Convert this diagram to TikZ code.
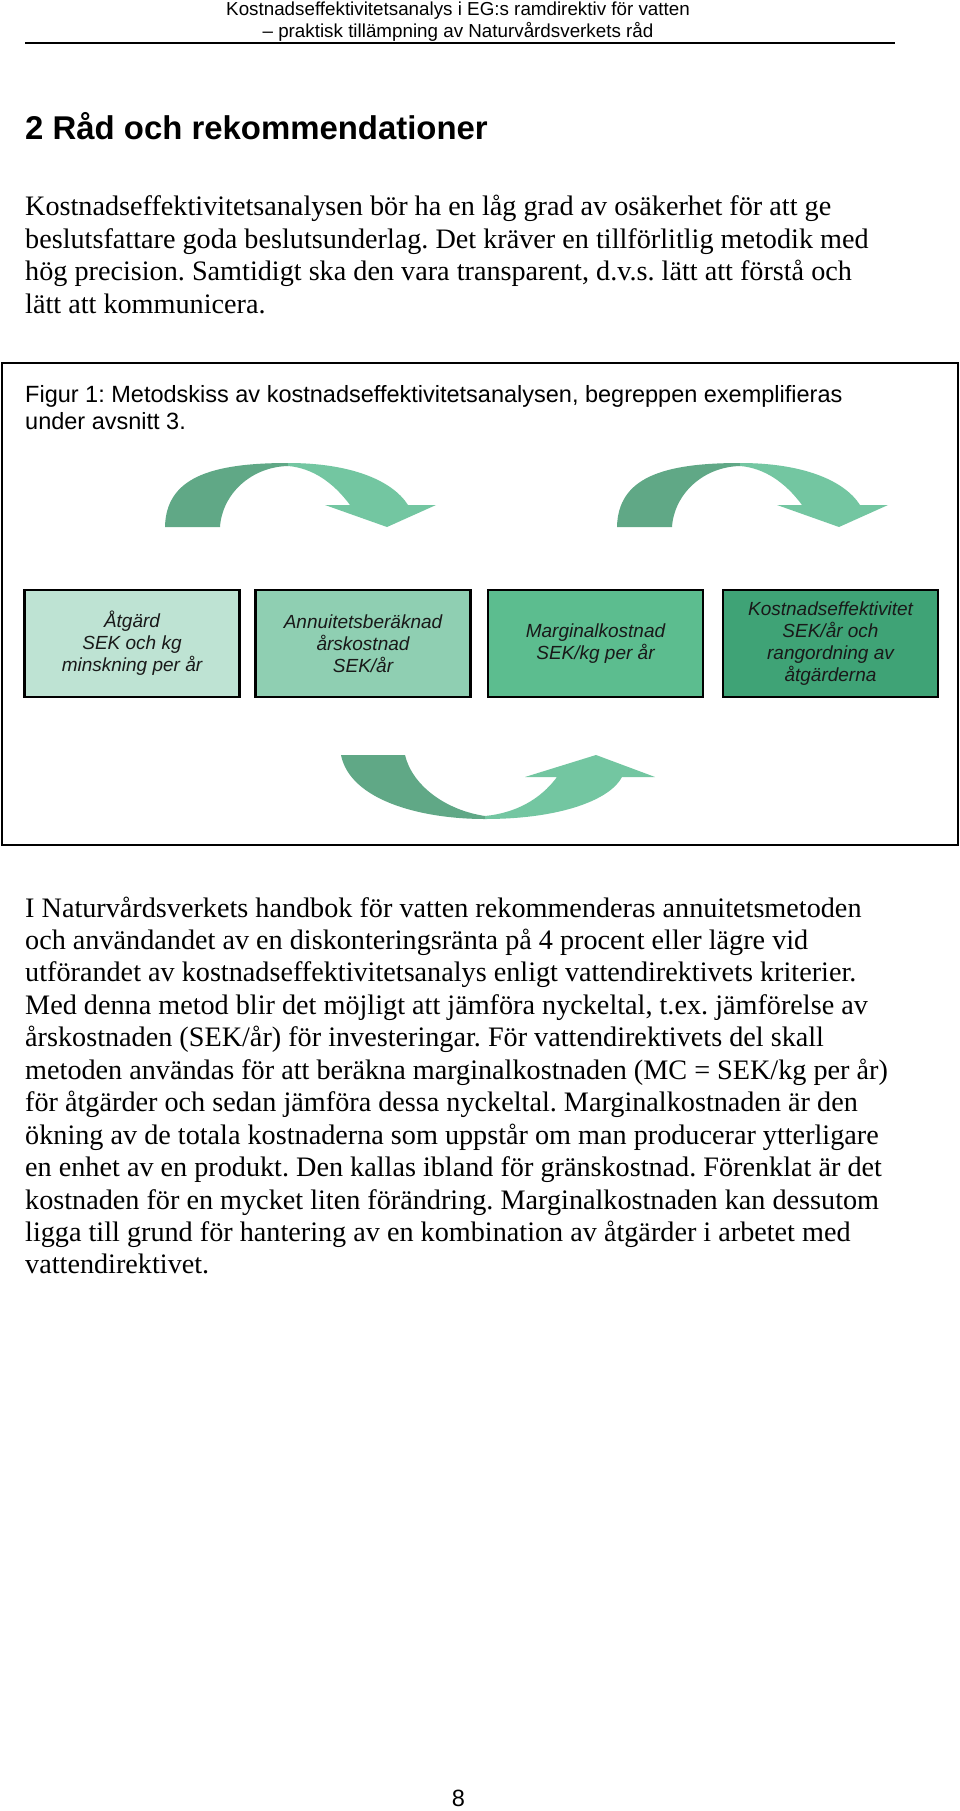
\documentclass[tikz,border=0pt]{standalone}
\usepackage{fontspec}
\setmainfont{Liberation Serif}
\setsansfont{Liberation Sans}
\usepackage{xcolor}
\definecolor{arrowdark}{HTML}{60A886}
\definecolor{arrowlight}{HTML}{73C6A1}
\definecolor{stageA}{HTML}{BEE3D3}
\definecolor{stageB}{HTML}{8FCFB2}
\definecolor{stageC}{HTML}{5CBD8F}
\definecolor{stageD}{HTML}{3FA376}
\frenchspacing

\begin{document}
\begin{tikzpicture}[x=1pt,y=-1pt]
        \tikzset{head text/.style = {font=\sffamily\fontsize{18.8}{21.6}\selectfont, anchor=base, inner sep=0pt},
                 body text/.style = {font=\fontsize{28.2}{32.45}\selectfont, anchor=base west, inner sep=0pt},
                 caption text/.style = {font=\sffamily\fontsize{23.5}{27}\selectfont, anchor=base west, inner sep=0pt},
                 stage box/.style = {draw=black, line width=2.5pt, minimum width=215pt, minimum height=107pt,
                                     inner sep=2pt, align=center, text=black!90,
                                     font=\sffamily\itshape\fontsize{19}{22}\selectfont}}
        \useasboundingbox (0,0) rectangle (960,1811);
        \fill[white] (0,0) rectangle (960,1811);
        \node[head text] (head1) at (458,16) {Kostnadseffektivitetsanalys i EG:s ramdirektiv för vatten};
        \node[head text] (head2) at (458,37.5) {– praktisk tillämpning av Naturvårdsverkets råd};
        \coordinate (ruleL) at (25,43);
        \coordinate (ruleR) at (895,43);
        \draw[line width=1.5pt] (ruleL) -- (ruleR);
        \node[anchor=base west, inner sep=0pt, font=\sffamily\bfseries\fontsize{32.9}{38}\selectfont] (title) at (25,140) {2 Råd och rekommendationer};
        \foreach \txt [count=\i] in {
            {Kostnadseffektivitetsanalysen bör ha en låg grad av osäkerhet för att ge},
            {beslutsfattare goda beslutsunderlag. Det kräver en tillförlitlig metodik med},
            {hög precision. Samtidigt ska den vara transparent, d.v.s. lätt att förstå och},
            {lätt att kommunicera.}}
            \node[body text] (intro-\i) at (25,{216+32.45*(\i-1)}) {\txt};
        \draw[line width=2pt] (2,363) rectangle (958,845);
        \node[caption text] (cap1) at (25,402) {Figur 1: Metodskiss av kostnadseffektivitetsanalysen, begreppen exemplifieras};
        \node[caption text] (cap2) at (25,429) {under avsnitt 3.};
        \foreach \dx in {0,452} {
            \begin{scope}[xshift=\dx]
                \fill[arrowdark] (165,527) .. controls (166,478) and (210,463) .. (288,463) -- (288,466)
                    .. controls (250,467) and (222,495) .. (220,527) -- cycle;
                \fill[arrowlight] (288,463) .. controls (350,463) and (392,480) .. (408,505) -- (436,505) -- (387,527)
                    -- (325,505) -- (350,505) .. controls (333,482) and (312,468) .. (288,466) -- cycle;
            \end{scope}
        }
        \fill[arrowdark] (341,755) .. controls (350,800) and (420,819) .. (485,819) -- (485,816)
            .. controls (445,810) and (412,785) .. (405,755) -- cycle;
        \fill[arrowlight] (485,819) .. controls (560,819) and (610,800) .. (622,777) -- (655,777) -- (596,755)
            -- (525,777) -- (557,777) .. controls (540,800) and (515,813) .. (485,816) -- cycle;
        \node[stage box, fill=stageA] (atgard) at (132,643.5) {Åtgärd\\SEK och kg\\minskning per år};
        \node[stage box, fill=stageB] (arskostnad) at (363,643.5) {Annuitetsberäknad\\årskostnad\\SEK/år};
        \node[stage box, fill=stageC] (marginal) at (595.5,643.5) {Marginalkostnad\\SEK/kg per år};
        \node[stage box, fill=stageD] (kosteff) at (830.5,643.5) {Kostnadseffektivitet\\SEK/år och\\rangordning av\\åtgärderna};
        \foreach \txt [count=\i] in {
            {I Naturvårdsverkets handbok för vatten rekommenderas annuitetsmetoden},
            {och användandet av en diskonteringsränta på 4 procent eller lägre vid},
            {utförandet av kostnadseffektivitetsanalys enligt vattendirektivets kriterier.},
            {Med denna metod blir det möjligt att jämföra nyckeltal, t.ex. jämförelse av},
            {årskostnaden (SEK/år) för investeringar. För vattendirektivets del skall},
            {metoden användas för att beräkna marginalkostnaden (MC = SEK/kg per år)},
            {för åtgärder och sedan jämföra dessa nyckeltal. Marginalkostnaden är den},
            {ökning av de totala kostnaderna som uppstår om man producerar ytterligare},
            {en enhet av en produkt. Den kallas ibland för gränskostnad. Förenklat är det},
            {kostnaden för en mycket liten förändring. Marginalkostnaden kan dessutom},
            {ligga till grund för hantering av en kombination av åtgärder i arbetet med},
            {vattendirektivet.}}
            \node[body text] (para-\i) at (25,{917+32.45*(\i-1)}) {\txt};
        \node[anchor=base, inner sep=0pt, font=\sffamily\fontsize{23.5}{27}\selectfont] (pagenum) at (458.5,1806) {8};
    \end{tikzpicture}
\end{document}
